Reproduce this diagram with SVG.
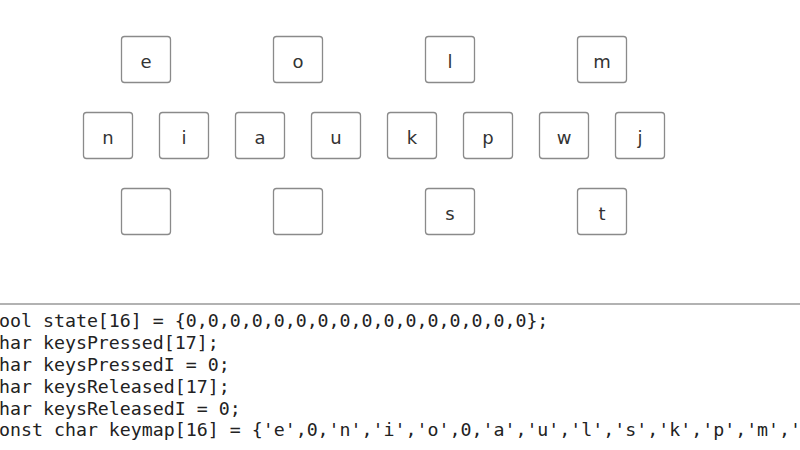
<svg xmlns="http://www.w3.org/2000/svg" width="800" height="450" viewBox="0 0 800 450">
<style>
.k rect{fill:#fff;stroke:#8a8a8a;stroke-width:1.3}
.k text{font-family:"DejaVu Sans",sans-serif;font-size:18px;fill:#333;text-anchor:middle}
.code{font-family:"DejaVu Sans Mono",monospace;font-size:18.25px;fill:#222}
</style>
<rect width="800" height="450" fill="#fff"/>
<g id="key-e" class="k"><rect x="121.5" y="36.5" width="49" height="46" rx="3"/><text x="146" y="67.5">e</text></g>
<g id="key-o" class="k"><rect x="273.5" y="36.5" width="49" height="46" rx="3"/><text x="298" y="67.5">o</text></g>
<g id="key-l" class="k"><rect x="425.5" y="36.5" width="49" height="46" rx="3"/><text x="450" y="67.5">l</text></g>
<g id="key-m" class="k"><rect x="577.5" y="36.5" width="49" height="46" rx="3"/><text x="602" y="67.5">m</text></g>
<g id="key-n" class="k"><rect x="83.5" y="112.5" width="49" height="46" rx="3"/><text x="108" y="143.5">n</text></g>
<g id="key-i" class="k"><rect x="159.5" y="112.5" width="49" height="46" rx="3"/><text x="184" y="143.5">i</text></g>
<g id="key-a" class="k"><rect x="235.5" y="112.5" width="49" height="46" rx="3"/><text x="260" y="143.5">a</text></g>
<g id="key-u" class="k"><rect x="311.5" y="112.5" width="49" height="46" rx="3"/><text x="336" y="143.5">u</text></g>
<g id="key-k" class="k"><rect x="387.5" y="112.5" width="49" height="46" rx="3"/><text x="412" y="143.5">k</text></g>
<g id="key-p" class="k"><rect x="463.5" y="112.5" width="49" height="46" rx="3"/><text x="488" y="143.5">p</text></g>
<g id="key-w" class="k"><rect x="539.5" y="112.5" width="49" height="46" rx="3"/><text x="564" y="143.5">w</text></g>
<g id="key-j" class="k"><rect x="615.5" y="112.5" width="49" height="46" rx="3"/><text x="640" y="143.5">j</text></g>
<g id="key-blank1" class="k"><rect x="121.5" y="188.5" width="49" height="46" rx="3"/></g>
<g id="key-blank2" class="k"><rect x="273.5" y="188.5" width="49" height="46" rx="3"/></g>
<g id="key-s" class="k"><rect x="425.5" y="188.5" width="49" height="46" rx="3"/><text x="450" y="219.5">s</text></g>
<g id="key-t" class="k"><rect x="577.5" y="188.5" width="49" height="46" rx="3"/><text x="602" y="219.5">t</text></g>
<g id="connectors"></g>
<line x1="0" y1="304" x2="800" y2="304" stroke="#999" stroke-width="1.3"/>
<g id="code" class="code">
<text x="-12" y="327.3">bool state[16] = {0,0,0,0,0,0,0,0,0,0,0,0,0,0,0,0};</text>
<text x="-12" y="349.1">char keysPressed[17];</text>
<text x="-12" y="370.9">char keysPressedI = 0;</text>
<text x="-12" y="392.7">char keysReleased[17];</text>
<text x="-12" y="414.5">char keysReleasedI = 0;</text>
<text x="-12" y="436.3">const char keymap[16] = {'e',0,'n','i','o',0,'a','u','l','s','k','p','m','w','j','t'};</text>
</g>
</svg>
